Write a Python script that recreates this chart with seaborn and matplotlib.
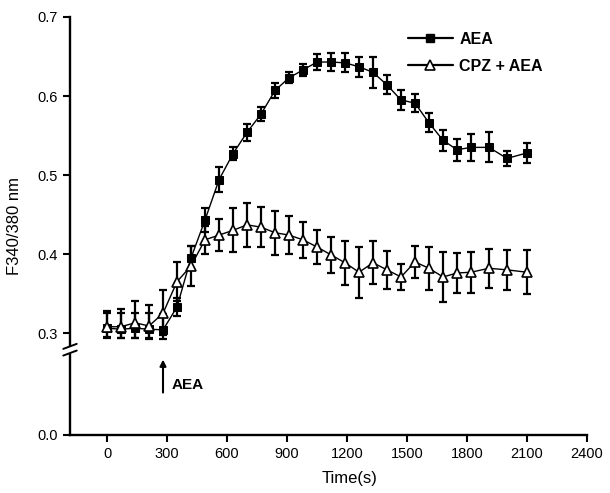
import numpy as np
import pandas as pd
import matplotlib
matplotlib.use("Agg")
import matplotlib.pyplot as plt
from matplotlib.lines import Line2D
from matplotlib.patches import Rectangle
import seaborn as sns

# ---------------- data ----------------
time_s = [0, 70, 140, 210, 280, 350, 420, 490, 560, 630, 700, 770, 840, 910, 980,
          1050, 1120, 1190, 1260, 1330, 1400, 1470, 1540, 1610, 1680, 1750, 1820,
          1910, 2000, 2100]
aea_mean = [0.306, 0.305, 0.306, 0.305, 0.304, 0.333, 0.395, 0.443, 0.494, 0.527,
            0.554, 0.577, 0.607, 0.623, 0.633, 0.643, 0.643, 0.642, 0.637, 0.630,
            0.614, 0.595, 0.591, 0.566, 0.544, 0.532, 0.535, 0.535, 0.521, 0.528]
aea_err = [0.020, 0.020, 0.020, 0.020, 0.020, 0.012, 0.015, 0.015, 0.016, 0.008,
           0.011, 0.009, 0.010, 0.007, 0.008, 0.010, 0.011, 0.012, 0.013, 0.020,
           0.012, 0.013, 0.011, 0.012, 0.013, 0.014, 0.017, 0.019, 0.010, 0.013]
cpz_mean = [0.308, 0.308, 0.313, 0.309, 0.325, 0.365, 0.385, 0.418, 0.424, 0.430,
            0.437, 0.434, 0.427, 0.424, 0.418, 0.409, 0.399, 0.389, 0.377, 0.389,
            0.380, 0.371, 0.390, 0.382, 0.371, 0.376, 0.377, 0.382, 0.380, 0.377]
cpz_err = [0.020, 0.023, 0.027, 0.027, 0.030, 0.025, 0.025, 0.018, 0.020, 0.028,
           0.028, 0.025, 0.028, 0.024, 0.023, 0.022, 0.023, 0.028, 0.032, 0.027,
           0.024, 0.017, 0.020, 0.027, 0.032, 0.025, 0.026, 0.025, 0.025, 0.028]
series_labels = ["AEA", "CPZ + AEA"]
x_ticks = [0, 300, 600, 900, 1200, 1500, 1800, 2100, 2400]
y_ticks = [0.0, 0.3, 0.4, 0.5, 0.6, 0.7]
y_ticklabels = ["0.0", "0.3", "0.4", "0.5", "0.6", "0.7"]
arrow_time = 280

df_aea = pd.DataFrame({"t": time_s, "F": aea_mean, "err": aea_err})
df_cpz = pd.DataFrame({"t": time_s, "F": cpz_mean, "err": cpz_err})

# ---------------- style ----------------
sns.set_style("ticks")
plt.rcParams["font.family"] = ["Liberation Sans", "DejaVu Sans"]
plt.rcParams["text.color"] = "black"
plt.rcParams["axes.labelcolor"] = "black"
plt.rcParams["xtick.color"] = "black"
plt.rcParams["ytick.color"] = "black"

fig = plt.figure(figsize=(6.10, 4.93), dpi=100)
ax = fig.add_axes([70 / 610, 1 - 435 / 493, 517 / 610, 418 / 493])

# broken y axis: compress the 0 - 0.3 range
Y0 = 0.171  # display position of 0.0 in the compressed scale
def fwd(v):
    v = np.asarray(v, dtype=float)
    return np.where(v >= 0.3, v, Y0 + v * (0.3 - Y0) / 0.3)
def inv(u):
    u = np.asarray(u, dtype=float)
    return np.where(u >= 0.3, u, (u - Y0) * 0.3 / (0.3 - Y0))
ax.set_yscale("function", functions=(fwd, inv))

# error bars
ax.errorbar(df_aea["t"], df_aea["F"], yerr=df_aea["err"], fmt="none", ecolor="black",
            elinewidth=1.6, capsize=3.2, capthick=1.6, zorder=2)
ax.errorbar(df_cpz["t"], df_cpz["F"], yerr=df_cpz["err"], fmt="none", ecolor="black",
            elinewidth=1.6, capsize=3.2, capthick=1.6, zorder=2)

# lines + markers
sns.lineplot(data=df_aea, x="t", y="F", ax=ax, color="black", marker="s",
             markersize=5.5, markerfacecolor="black", markeredgecolor="black",
             linewidth=1.0, errorbar=None, zorder=3)
sns.lineplot(data=df_cpz, x="t", y="F", ax=ax, color="black", marker="^",
             markersize=6.5, markerfacecolor="white", markeredgecolor="black",
             markeredgewidth=1.2, linewidth=1.0, errorbar=None, zorder=3)

ax.set_xlim(-185, 2400)
ax.set_ylim(0.0, 0.7)
ax.set_xticks(x_ticks)
ax.set_xticklabels([str(v) for v in x_ticks])
ax.set_yticks(y_ticks)
ax.set_yticklabels(y_ticklabels)
ax.minorticks_off()
ax.tick_params(axis="both", direction="out", length=5, width=1.5, labelsize=10.5,
               color="black", labelcolor="black", pad=4)

for side in ["top", "right"]:
    ax.spines[side].set_visible(False)
for side in ["left", "bottom"]:
    ax.spines[side].set_linewidth(1.7)
    ax.spines[side].set_color("black")

ax.set_xlabel("Time(s)", fontsize=12, color="black")
ax.xaxis.set_label_coords(0.541, -0.085)
ax.set_ylabel("F340/380 nm", fontsize=12, color="black")
ax.yaxis.set_label_coords(-0.092, 0.5)

# axis break marks
ax.add_patch(Rectangle((-0.01, 0.193), 0.02, 0.02, transform=ax.transAxes,
                       facecolor="white", edgecolor="none", clip_on=False, zorder=5))
for yb in (0.196, 0.212):
    ax.add_line(Line2D([-0.013, 0.013], [yb - 0.006, yb + 0.006], transform=ax.transAxes,
                       color="black", linewidth=1.4, clip_on=False, zorder=6))

# stimulus arrow
ax.annotate("", xy=(arrow_time, 0.222), xytext=(arrow_time, 0.125),
            arrowprops=dict(arrowstyle="-|>", color="black", lw=1.5,
                            mutation_scale=9, shrinkA=0, shrinkB=0))
ax.text(arrow_time + 45, 0.148, "AEA", fontsize=11, fontweight="bold",
        ha="left", va="center", color="black")

# legend
handles = [
    Line2D([], [], color="black", marker="s", markersize=5.5, linewidth=1.6,
           markerfacecolor="black"),
    Line2D([], [], color="black", marker="^", markersize=6.5, linewidth=1.6,
           markerfacecolor="white", markeredgewidth=1.2),
]
leg = ax.legend(handles, series_labels, loc="upper left",
                bbox_to_anchor=(408 / 610, 1 - 32 / 493),
                bbox_transform=fig.transFigure, frameon=False,
                handlelength=2.8, handletextpad=0.4, labelspacing=0.75,
                borderpad=0, borderaxespad=0,
                prop={"size": 11.5, "weight": "bold"})
for txt in leg.get_texts():
    txt.set_color("black")

fig.savefig("out.png", dpi=100)
